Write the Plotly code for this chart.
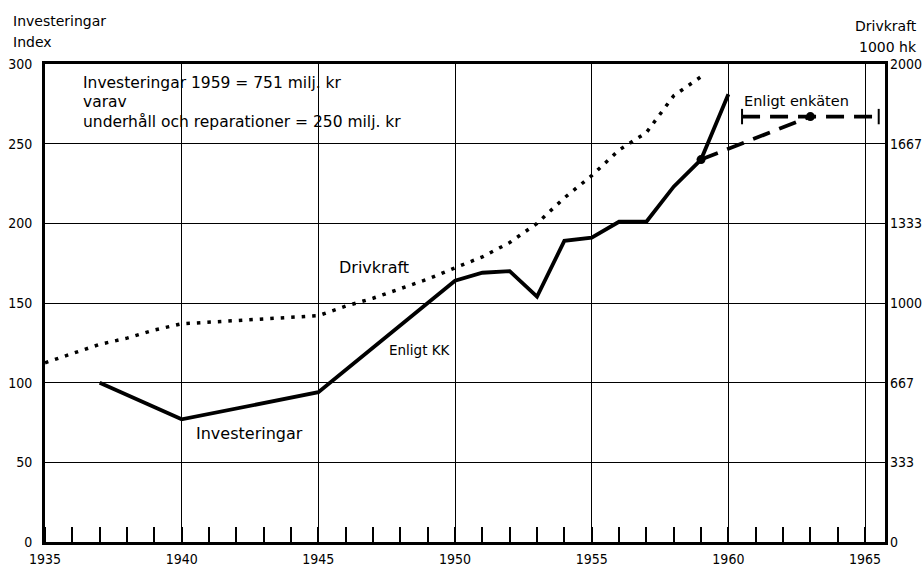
import plotly.graph_objects as go

# ---- data ----
inv_years = [1937, 1940, 1945, 1950, 1951, 1952, 1953, 1954, 1955, 1956, 1957, 1958, 1959, 1960]
inv_index = [100, 77, 94, 164, 169, 170, 154, 189, 191, 201, 201, 223, 240, 281]

enk_years = [1959, 1963]
enk_index = [240, 267]

enk_range_years = [1960.5, 1965.5]
enk_range_level = [267, 267]

drv_years = list(range(1935, 1960))
drv_khk = [750, 787, 827, 853, 887, 913, 920, 927, 933, 940, 947, 987, 1020, 1060, 1100,
           1147, 1193, 1253, 1333, 1440, 1533, 1640, 1713, 1867, 1947]

left_ticks = [0, 50, 100, 150, 200, 250, 300]
right_tickvals = [0, 2000/6, 4000/6, 1000, 8000/6, 10000/6, 2000]
right_ticktext = ["0", "333", "667", "1000", "1333", "1667", "2000"]
x_ticks = [1935, 1940, 1945, 1950, 1955, 1960, 1965]

FONT = "DejaVu Sans, Verdana, sans-serif"
TICKFONT = "DejaVu Sans Condensed, DejaVu Sans, sans-serif"
W, H = 924, 568
L, R, T, B = 45, 39, 64, 26
PW, PH = W - L - R, H - T - B


def pp(xp, yp):
    return (xp - L) / PW, (H - B - yp) / PH


fig = go.Figure()

fig.add_trace(go.Scatter(x=drv_years, y=drv_khk, yaxis="y2", mode="lines",
                         line=dict(color="black", width=3.5, dash="3.5px,7px"),
                         name="Drivkraft", showlegend=False))
fig.add_trace(go.Scatter(x=inv_years, y=inv_index, mode="lines",
                         line=dict(color="black", width=3.8),
                         name="Investeringar", showlegend=False))
fig.add_trace(go.Scatter(x=enk_years, y=enk_index, mode="lines+markers",
                         line=dict(color="black", width=3.8, dash="18px,10px"),
                         marker=dict(color="black", size=9),
                         name="Enligt enkäten", showlegend=False))
fig.add_trace(go.Scatter(x=enk_range_years, y=enk_range_level, mode="lines+markers",
                         line=dict(color="black", width=3.8, dash="18px,10px"),
                         marker=dict(symbol="line-ns-open", size=11,
                                     line=dict(color="black", width=2)),
                         showlegend=False))

ann = []


def add_text(text, xp, yp, xanchor="left", yanchor="middle", size=15, align="left"):
    x, y = pp(xp, yp)
    ann.append(dict(text=text, x=x, y=y, xref="paper", yref="paper",
                    xanchor=xanchor, yanchor=yanchor, showarrow=False, align=align,
                    font=dict(family=FONT, size=size, color="black")))


add_text("Investeringar", 11, 21, size=14)
add_text("Index", 11, 42, size=14)
add_text("Drivkraft", 919, 26, xanchor="right", size=14)
add_text("1000 hk", 919, 47, xanchor="right", size=14)
add_text("Investeringar 1959 = 751 milj. kr", 81, 83, size=15.5)
add_text("varav", 81, 102, size=15.5)
add_text("underhåll och reparationer = 250 milj. kr", 81, 122, size=15.5)
add_text("Drivkraft", 337, 267, size=16)
add_text("Enligt KK", 387, 350, size=13.5)
add_text("Investeringar", 194, 433, size=16)
add_text("Enligt enkäten", 742, 101, size=14.5)

axis_font = dict(family=TICKFONT, size=14, color="black")

fig.update_layout(
    width=W, height=H,
    margin=dict(l=L, r=R, t=T, b=B, pad=0, autoexpand=False),
    paper_bgcolor="white", plot_bgcolor="white",
    showlegend=False,
    annotations=ann,
    xaxis=dict(range=[1935, 1965.73], tickvals=x_ticks, ticktext=[str(v) for v in x_ticks],
               showgrid=True, gridcolor="black", gridwidth=1.3,
               showline=True, linecolor="black", linewidth=3, mirror=True, automargin=False,
               ticks="", tickfont=axis_font, ticklabelstandoff=2, zeroline=False,
               minor=dict(dtick=1, tick0=1935, ticks="inside", ticklen=15,
                          tickwidth=1.5, tickcolor="black", showgrid=False)),
    yaxis=dict(range=[0, 300], tickvals=left_ticks, showgrid=True, gridcolor="black",
               gridwidth=1.3, showline=True, linecolor="black", linewidth=3, mirror=True,
               automargin=False,
               ticks="", tickfont=axis_font, ticklabelstandoff=7, zeroline=False),
    yaxis2=dict(range=[0, 2000], overlaying="y", side="right", tickvals=right_tickvals,
                ticktext=right_ticktext, showgrid=False, ticks="", tickfont=axis_font,
                automargin=False,
                ticklabelstandoff=4, zeroline=False, showline=False),
)

fig.write_html("out.html", config={"displayModeBar": False},
               post_script="document.body.style.margin='0';document.body.style.overflow='hidden';")
